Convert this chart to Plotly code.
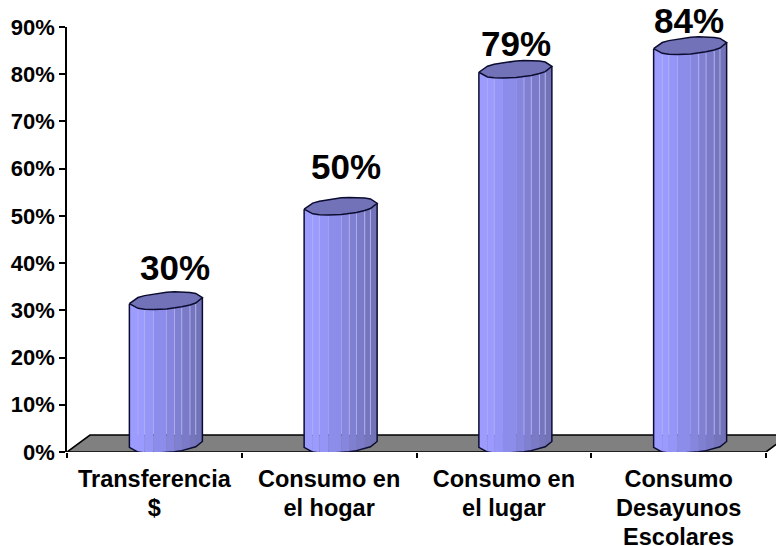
import numpy as np
import plotly.graph_objects as go

categories = ["Transferencia<br>$", "Consumo en<br>el hogar", "Consumo en<br>el lugar", "Consumo<br>Desayunos<br>Escolares"]
values = [30, 50, 79, 84]
labels = ["30%", "50%", "79%", "84%"]
y_ticks = list(range(0, 100, 10))
y_labels = [f"{v}%" for v in y_ticks]

FONT = "Liberation Sans"
W, H = 776, 546
X0, Y0, Y90 = 67, 452, 27
CAT_W = 174.75
xmax = -0.5 + (W - X0) / CAT_W
px_y = (Y0 - Y90) / 90.0  # pixels per percent

DEPTH_X = 23 / CAT_W
FLOOR_H = 17 / px_y
CYL_SHIFT = 11.5 / CAT_W
CYL_A = 36.5 / CAT_W
CYL_B = 1.76
CYL_S = 0.63
BASE_C = 1.6
TOP_OFF = 2.05
OUTLINE = "#0c0c30"

# facet boundaries across the cylinder width, with facet colours left to right
fracs = np.array([0, .118, .209, .33, .51, .618, .718, .83, .909, 1.0])
facet_cols = ["#9c9cff", "#9a9aff", "#9595f8", "#8c8cea", "#8686de", "#8080d2",
              "#7a7ac8", "#7575be", "#7272b8"]
light_idx = [1, 2, 5, 6, 7, 8]
TOP_COL = "#7272b8"
cos_t = 2 * fracs - 1
sin_t = np.sqrt(np.clip(1 - cos_t ** 2, 0, 1))


def front(cx, cy):
    return cx + CYL_A * cos_t, cy + CYL_S * cos_t - CYL_B * sin_t


def back(cx, cy):
    return cx + CYL_A * cos_t, cy + CYL_S * cos_t + CYL_B * sin_t


fig = go.Figure()


def poly(x, y, fill=None, line=None, lw=0):
    fig.add_trace(go.Scatter(
        x=list(x), y=list(y), mode="lines", fill="toself" if fill else None,
        fillcolor=fill, line=dict(color=line or "rgba(0,0,0,0)", width=lw),
        hoverinfo="skip", showlegend=False, cliponaxis=False))


# floor
poly([-0.5, 3.5, 3.5 + DEPTH_X, -0.5 + DEPTH_X, -0.5], [0, 0, FLOOR_H, FLOOR_H, 0],
     fill="#808080", line="#000000", lw=1.6)

for i, v in enumerate(values):
    cx = i + CYL_SHIFT
    bx, by = front(cx, BASE_C)
    tx, ty = front(cx, v + TOP_OFF)
    # side facets
    for k in range(len(fracs) - 1):
        poly([bx[k], bx[k + 1], tx[k + 1], tx[k], bx[k]],
             [by[k], by[k + 1], ty[k + 1], ty[k], by[k]], fill=facet_cols[k])
    # light facet edges
    lx, ly = [], []
    for k in light_idx:
        lx += [tx[k], tx[k], None]
        ly += [ty[k], max(FLOOR_H, by[k]), None]
    poly(lx, ly, line="#acacec", lw=1)
    # top cap
    ux, uy = back(cx, v + TOP_OFF)
    capx = list(tx) + list(ux[::-1][1:])
    capy = list(ty) + list(uy[::-1][1:])
    poly(capx, capy, fill=TOP_COL, line=OUTLINE, lw=1.5)
    # outline of sides
    poly([tx[0]] + list(bx) + [tx[-1]], [ty[0]] + list(by) + [ty[-1]], line=OUTLINE, lw=1.5)

label_shift = [(9.5, 43), (5.5, 49), (0.5, 35), (-1.5, 35)]
for i, (v, t) in enumerate(zip(values, labels)):
    fig.add_annotation(x=i + CYL_SHIFT, y=v, xref="x", yref="y", text=t, showarrow=False,
                       xshift=label_shift[i][0], yshift=label_shift[i][1],
                       font=dict(family=FONT, size=35, color="#000000", weight=700),
                       xanchor="center", yanchor="middle")

INNER = 23.5
ticktext = ["<br>".join(f'<span style="font-size:{INNER}px">{p}</span>' for p in c.split("<br>")) for c in categories]

fig.update_layout(
    width=W, height=H,
    margin=dict(l=X0, r=0, t=Y90, b=H - Y0, autoexpand=False),
    paper_bgcolor="white", plot_bgcolor="white",
    font=dict(family=FONT, color="#000000"),
    xaxis=dict(range=[-0.5, xmax], showgrid=False, zeroline=False, showline=False, automargin=False,
               tickvals=list(range(len(categories))), ticktext=ticktext, ticks="", tickangle=0,
               ticklabelstandoff=12,
               tickfont=dict(family=FONT, size=22.3, color="#000000", weight=700),
               minor=dict(tickvals=[k - 0.5 for k in range(len(categories) + 1)], ticks="outside",
                          ticklen=5, tickwidth=1.5, tickcolor="#000000", showgrid=False)),
    yaxis=dict(range=[0, 90], showgrid=False, zeroline=False, showline=True, linecolor="#000000",
               automargin=False,
               linewidth=1.6, tickvals=y_ticks, ticktext=y_labels, ticks="outside", ticklen=6,
               tickwidth=1.5, tickcolor="#000000",
               tickfont=dict(family=FONT, size=22, color="#000000", weight=700)),
)
fig.write_html("out.html", config={"displayModeBar": False},
               default_width=f"{W}px", default_height=f"{H}px",
               post_script="document.body.style.margin='0';document.documentElement.style.overflow='hidden';window.dispatchEvent(new Event('resize'));")
